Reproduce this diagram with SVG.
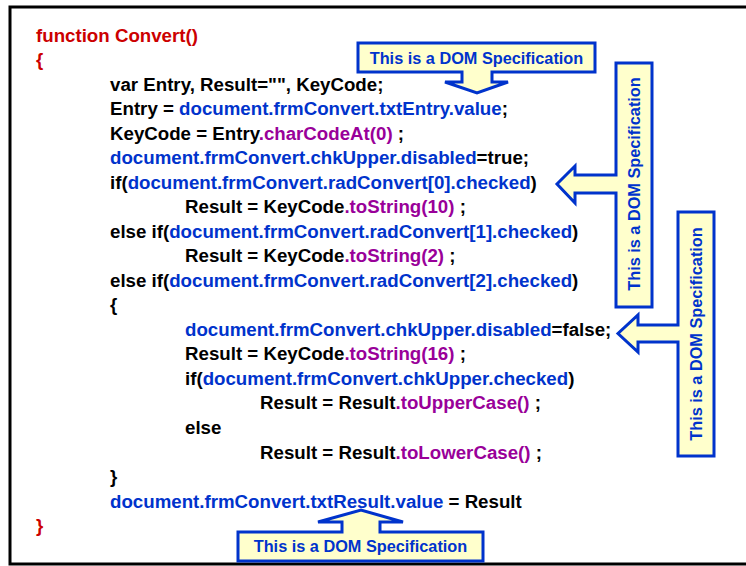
<svg xmlns="http://www.w3.org/2000/svg" width="746" height="566" viewBox="0 0 746 566">
<style>
.code{font-family:"Liberation Sans",Arial,sans-serif;font-weight:bold;font-size:18.7px;fill:#000}
.r{fill:#cc0000}
.b{fill:#0033cc}
.p{fill:#990099}
.co{fill:#ffffcc;stroke:#0033cc;stroke-width:3;stroke-linejoin:miter}
.ct{font-family:"Liberation Sans",Arial,sans-serif;font-weight:bold;font-size:16.3px;fill:#0033cc;text-anchor:middle}
</style>
<rect x="0" y="0" width="746" height="566" fill="#fff"/>
<rect x="10" y="7" width="740" height="557" fill="none" stroke="#000" stroke-width="3"/>
<g id="code" class="code">
<text x="36" y="41.5" class="r">function Convert()</text>
<text x="36" y="66" class="r">{</text>
<text x="110" y="90.6">var Entry, Result="", KeyCode;</text>
<text x="110" y="115.1">Entry = <tspan class="b">document.frmConvert.txtEntry.value</tspan>;</text>
<text x="110" y="139.6">KeyCode = Entry<tspan class="p">.charCodeAt(0)</tspan> ;</text>
<text x="110" y="164.2"><tspan class="b">document.frmConvert.chkUpper.disabled</tspan>=true;</text>
<text x="110" y="188.7">if(<tspan class="b">document.frmConvert.radConvert[0].checked</tspan>)</text>
<text x="185" y="213.2">Result = KeyCode<tspan class="p">.toString(10)</tspan> ;</text>
<text x="110" y="237.7">else if(<tspan class="b">document.frmConvert.radConvert[1].checked</tspan>)</text>
<text x="185" y="262.3">Result = KeyCode<tspan class="p">.toString(2)</tspan> ;</text>
<text x="110" y="286.8">else if(<tspan class="b">document.frmConvert.radConvert[2].checked</tspan>)</text>
<text x="110" y="311.3">{</text>
<text x="185" y="335.9"><tspan class="b">document.frmConvert.chkUpper.disabled</tspan>=false;</text>
<text x="185" y="360.4">Result = KeyCode<tspan class="p">.toString(16)</tspan> ;</text>
<text x="185" y="384.9">if(<tspan class="b">document.frmConvert.chkUpper.checked</tspan>)</text>
<text x="260" y="409.4">Result = Result<tspan class="p">.toUpperCase()</tspan> ;</text>
<text x="185" y="434">else</text>
<text x="260" y="458.5">Result = Result<tspan class="p">.toLowerCase()</tspan> ;</text>
<text x="110" y="483">}</text>
<text x="110" y="507.5"><tspan class="b">document.frmConvert.txtResult.value</tspan> = Result</text>
<text x="36" y="532" class="r">}</text>
</g>
<g id="callout-top">
<path class="co" d="M358,43 H595 V72 H492 V82 H508 L477,93 L445,82 H462 V72 H358 Z"/>
<text class="ct" x="476.5" y="63.5">This is a DOM Specification</text>
</g>
<g id="callout-right1">
<path class="co" d="M616,63 H652 V307 H616 V193 H575 V203 L557,184 L575,166 V175 H616 Z"/>
<text class="ct" transform="translate(640,184) rotate(-90)">This is a DOM Specification</text>
</g>
<g id="callout-right2">
<path class="co" d="M678,212 H714 V456 H678 V342 H638 V352 L618,333.5 L638,315 V325 H678 Z"/>
<text class="ct" transform="translate(702,334) rotate(-90)">This is a DOM Specification</text>
</g>
<g id="callout-bottom">
<path class="co" d="M238,532 H342 V522 H318 L361,510 L403,522 H380 V532 H483 V561 H238 Z"/>
<text class="ct" x="360.5" y="552">This is a DOM Specification</text>
</g>
</svg>
